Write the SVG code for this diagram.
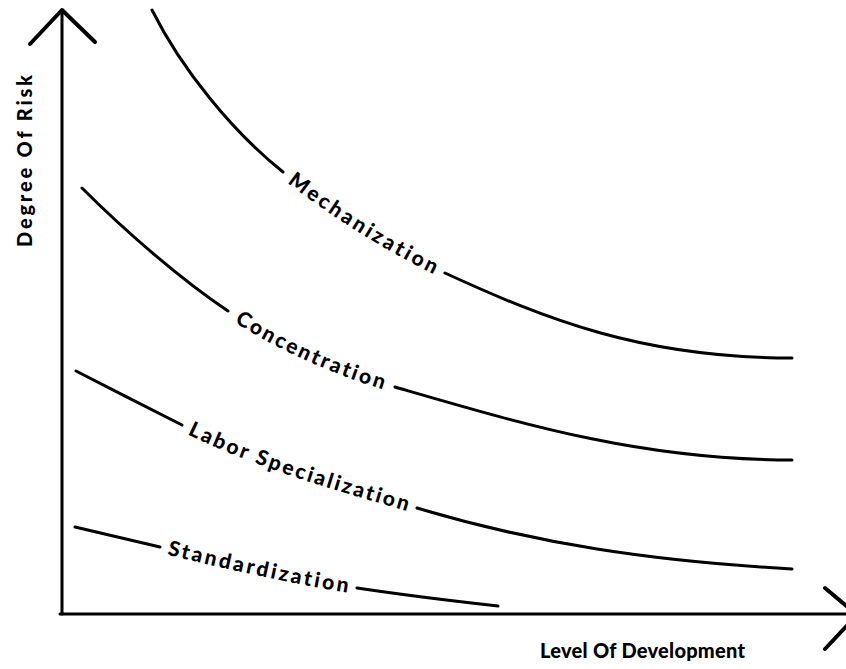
<svg xmlns="http://www.w3.org/2000/svg" width="846" height="669" viewBox="0 0 846 669">
<style>
.axis{fill:none;stroke:#000;stroke-width:3;stroke-linecap:round;stroke-linejoin:round}
.head{fill:none;stroke:#000;stroke-width:4;stroke-linecap:round;stroke-linejoin:round}
.curve{fill:none;stroke:#000;stroke-width:3;stroke-linecap:round;stroke-linejoin:round}
.lbl{font-family:Lato,"Liberation Sans",sans-serif;font-weight:900;font-size:21px;fill:#000;font-variant-ligatures:none}
.ax{font-family:Lato,"Liberation Sans",sans-serif;font-weight:900;font-size:20px;fill:#000;font-variant-ligatures:none}
</style>
<defs>
<path id="tp-mech" d="M283,172 C323,204 391,248.2 445,273"/>
<path id="tp-conc" d="M228,311 C283,347 340,370.5 395,387"/>
<path id="tp-labor" d="M182,425 C260,464 339,484.6 417,508"/>
<path id="tp-std" d="M160,547 C225,562.3 292,578.25 357,588"/>
</defs>
<g id="axes">
<line class="axis" x1="62" y1="10" x2="62" y2="614"/>
<line class="axis" x1="60" y1="614" x2="846" y2="614"/>
<polyline class="head" points="30,44 62,10 95,42"/>
<line class="head" x1="825" y1="588" x2="856" y2="614"/>
<line class="head" x1="825" y1="649" x2="856" y2="616"/>
<text id="ylabel" class="ax" transform="translate(32,247) rotate(-90)" textLength="172" lengthAdjust="spacing">Degree Of Risk</text>
<text id="xlabel" class="ax" x="540" y="658" textLength="205" lengthAdjust="spacing">Level Of Development</text>
</g>
<g id="connectors">
<g id="mechanization">
<path class="curve" d="M152,10 C182,70 233,132 283,172"/>
<path class="curve" d="M445,273 C545,319 642,358 792,358"/>
<text class="lbl" dy="6"><textPath href="#tp-mech" startOffset="50%" text-anchor="middle" textLength="172" lengthAdjust="spacing">Mechanization</textPath></text>
</g>
<g id="concentration">
<path class="curve" d="M82,188 C127,233 183,281 228,311"/>
<path class="curve" d="M395,387 C525,424.7 642,460 792,460"/>
<text class="lbl" dy="6"><textPath href="#tp-conc" startOffset="50%" text-anchor="middle" textLength="162" lengthAdjust="spacing">Concentration</textPath></text>
</g>
<g id="labor-specialization">
<path class="curve" d="M76,371 C111,389 147,407.5 182,425"/>
<path class="curve" d="M417,508 C537,544 652,561 792,569"/>
<text class="lbl" dy="6"><textPath href="#tp-labor" startOffset="50%" text-anchor="middle" textLength="232" lengthAdjust="spacing">Labor Specialization</textPath></text>
</g>
<g id="standardization">
<path class="curve" d="M75,527 L160,547"/>
<path class="curve" d="M357,588 C404,595 451,600.8 498,606"/>
<text class="lbl" dy="6"><textPath href="#tp-std" startOffset="50%" text-anchor="middle" textLength="184" lengthAdjust="spacing">Standardization</textPath></text>
</g>
</g>
</svg>
